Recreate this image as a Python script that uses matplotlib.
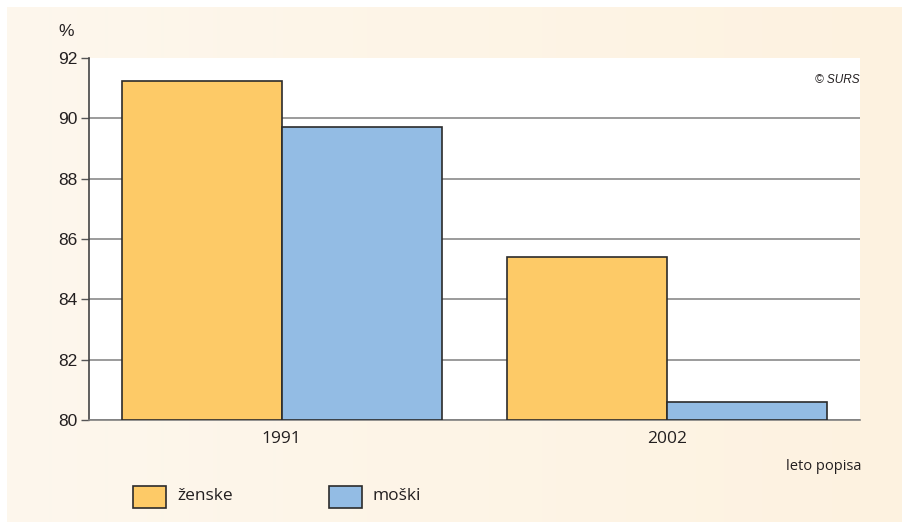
import numpy as np
import matplotlib.pyplot as plt
from matplotlib.patches import Rectangle

years = ["1991", "2002"]
zenske = [91.25, 85.4]
moski = [89.7, 80.6]
series_labels = ["ženske", "moški"]
colors = ["#fdca67", "#93bce4"]
yticks = [80, 82, 84, 86, 88, 90, 92]

W, H = 902, 524
fig = plt.figure(figsize=(W / 100, H / 100), dpi=100)
fig.patch.set_facecolor("white")

# cream gradient background
bg = fig.add_axes([7 / W, 2 / H, (W - 7) / W, (H - 9) / H], zorder=-10)
grad = np.linspace(0, 1, 256).reshape(1, -1)
c0 = np.array([253, 247, 237]) / 255
c1 = np.array([253, 242, 224]) / 255
img = c0[None, None, :] * (1 - grad[..., None]) + c1[None, None, :] * grad[..., None]
bg.imshow(img, aspect="auto", extent=[0, 1, 0, 1])
bg.set_axis_off()

x0, x1, y0, y1 = 89, 860, 58, 420
ax = fig.add_axes([x0 / W, 1 - y1 / H, (x1 - x0) / W, (y1 - y0) / H])
ax.set_facecolor("white")

x = np.arange(len(years))
w = 0.415
b1 = ax.bar(x - w / 2, np.array(zenske) - 80, w, bottom=80, color=colors[0],
            edgecolor="#2b2b2b", linewidth=1.2, zorder=3)
b2 = ax.bar(x + w / 2, np.array(moski) - 80, w, bottom=80, color=colors[1],
            edgecolor="#2b2b2b", linewidth=1.2, zorder=3)

ax.set_xlim(-0.5, 1.5)
ax.set_ylim(80, 92)
ax.set_yticks(yticks)
ax.set_yticklabels([str(t) for t in yticks], fontsize=12.5, family="Liberation Sans", color="#231f20")
ax.yaxis.grid(True, color="#808080", linewidth=1.1, zorder=1)
ax.get_ygridlines()[-1].set_visible(False)
ax.tick_params(axis="y", length=6, width=1, color="#555555", pad=2)
ax.set_xticks(x)
ax.set_xticklabels(years, fontsize=12.5, family="Open Sans", color="#231f20")
ax.tick_params(axis="x", length=0, pad=8)
for s in ["top", "right"]:
    ax.spines[s].set_visible(False)
ax.spines["left"].set_color("#444444")
ax.spines["left"].set_linewidth(1.2)
ax.spines["bottom"].set_color("#808080")
ax.spines["bottom"].set_linewidth(1.2)

fig.text(66 / W, 1 - 31 / H, "%", fontsize=12.5, family="Liberation Sans", ha="center", va="center", color="#231f20")
ax.text(0.999, 0.938, "© SURS", transform=ax.transAxes, ha="right", va="center",
        fontsize=8.5, style="italic", family="Liberation Sans", color="#231f20")
fig.text(861 / W, 1 - 467 / H, "leto popisa", fontsize=10.5, family="Open Sans",
         ha="right", va="center", color="#231f20")

# legend
for (lx, tx), lab, col in zip([(133, 177), (329, 373)], series_labels, colors):
    fig.add_artist(Rectangle((lx / W, 1 - 508 / H), 33 / W, 22 / H, transform=fig.transFigure,
                             facecolor=col, edgecolor="#2b2b2b", linewidth=1.2))
    fig.text(tx / W, 1 - 496 / H, lab, fontsize=12.5, family="Open Sans", ha="left",
             va="center", color="#231f20")

fig.savefig("out.png", dpi=100)
